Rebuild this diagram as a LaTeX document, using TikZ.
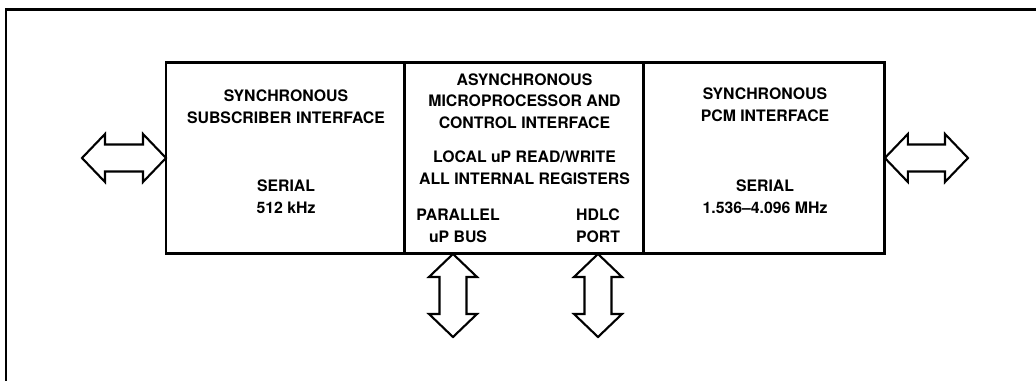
\documentclass[tikz,border=0pt]{standalone}
\usepackage{fontspec}
\setmainfont{TeX Gyre Heros}
\usetikzlibrary{positioning, calc}

\tikzset{
  blockbox/.style={draw, line width=1.7pt, outer sep=0pt, inner sep=0pt,
    minimum width=4.78cm, minimum height=3.84cm},
  blocktext/.style={align=center, inner sep=0pt,
    font=\fontsize{9}{12.3}\selectfont\bfseries},
  busarrow/.style={draw, line width=1.2pt, line join=miter, fill=white}
}

% fat double arrow between two named points
\newcommand{\dblarrow}[2]{%
  \draw[busarrow] (#1)
    -- ($(#1)!0.46cm!(#2)!0.48cm!90:(#2)$)
    -- ($(#1)!0.46cm!(#2)!0.27cm!90:(#2)$)
    -- ($(#2)!0.46cm!(#1)!0.27cm!-90:(#1)$)
    -- ($(#2)!0.46cm!(#1)!0.48cm!-90:(#1)$)
    -- (#2)
    -- ($(#2)!0.46cm!(#1)!0.48cm!90:(#1)$)
    -- ($(#2)!0.46cm!(#1)!0.27cm!90:(#1)$)
    -- ($(#1)!0.46cm!(#2)!0.27cm!-90:(#2)$)
    -- ($(#1)!0.46cm!(#2)!0.48cm!-90:(#2)$)
    -- cycle;}

\begin{document}
\begin{tikzpicture}[x=0.02cm, y=-0.02cm]
  \useasboundingbox (0,0) rectangle (1036,380);
  \clip (0,0) rectangle (1036,380);
  % outer frame
  \draw[line width=1.7pt] (6,400) -- (6,9) -- (1050,9);

  % the three blocks
  \node[blockbox, anchor=north west] (sub) at (166,62) {};
  \node[blockbox, right=0pt of sub] (ctl) {};
  \node[blockbox, right=0pt of ctl, minimum width=4.82cm] (pcm) {};

  % texts
  \node[blocktext] (subtitle) at (286,106.5) {SYNCHRONOUS\\SUBSCRIBER INTERFACE};
  \node[blocktext] (subrate) at (286,196.5) {SERIAL\\512 kHz};
  \node[blocktext] (ctltitle) at (524.5,101) {ASYNCHRONOUS\\MICROPROCESSOR AND\\CONTROL INTERFACE};
  \node[blocktext] (ctlregs) at (524.5,167.5) {LOCAL uP READ/WRITE\\ALL INTERNAL REGISTERS};
  \node[blocktext] (ctlbus) at (458,226) {PARALLEL\\uP BUS};
  \node[blocktext] (ctlhdlc) at (598,226) {HDLC\\PORT};
  \node[blocktext] (pcmtitle) at (765,105) {SYNCHRONOUS\\PCM INTERFACE};
  \node[blocktext] (pcmrate) at (765,196.5) {SERIAL\\1.536--4.096 MHz};

  % arrow ends
  \coordinate (subend) at (82,158);
  \coordinate (pcmend) at (968,158);
  \coordinate (busend) at (453,337);
  \coordinate (hdlcend) at (598,337);
  \coordinate (bustop) at (ctl.south -| busend);
  \coordinate (hdlctop) at (ctl.south -| hdlcend);

  \dblarrow{subend}{sub.west}
  \dblarrow{pcm.east}{pcmend}
  \dblarrow{bustop}{busend}
  \dblarrow{hdlctop}{hdlcend}
\end{tikzpicture}
\end{document}
